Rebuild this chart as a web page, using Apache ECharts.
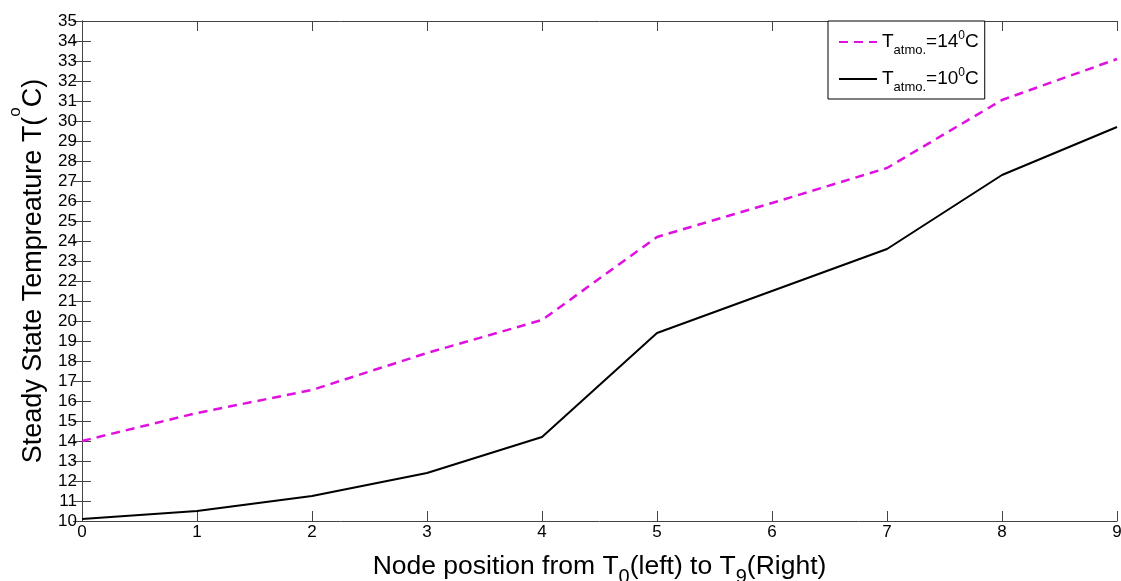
<!DOCTYPE html>
<html>
<head>
<meta charset="utf-8">
<script src="https://cdn.jsdelivr.net/npm/echarts@6/dist/echarts.min.js"></script>
<style>html,body{margin:0;padding:0;background:#fff}#c{width:1121px;height:581px}</style>
</head>
<body>
<div id="c"></div>
<script>
const nodes = [0, 1, 2, 3, 4, 5, 6, 7, 8, 9];
const temp14 = [14.0, 15.4, 16.55, 18.4, 20.05, 24.2, 25.9, 27.65, 31.05, 33.1];
const temp10 = [10.1, 10.5, 11.25, 12.4, 14.2, 19.4, 21.5, 23.6, 27.3, 29.7];
const seriesNames = ['T14', 'T10'];
const legendLabels = {
  T14: '{a|T}{sub|atmo.}{a|=14}{sup|0}{a|C}',
  T10: '{a|T}{sub|atmo.}{a|=10}{sup|0}{a|C}'
};

const font = 'Liberation Sans, Arial, sans-serif';
const axisColor = '#444';
const chart = echarts.init(document.getElementById('c'));
const pairs = (ys) => nodes.map((x, i) => [x, ys[i]]);

const common = {
  type: 'value', min: 0, max: 9, interval: 1,
  axisLine: { lineStyle: { color: axisColor, width: 1 } },
  axisTick: { inside: true, length: 10, lineStyle: { color: axisColor } },
  splitLine: { show: false }
};
const commonY = {
  type: 'value', min: 10, max: 35, interval: 1,
  axisLine: { show: true, lineStyle: { color: axisColor, width: 1 } },
  axisTick: { show: true, inside: true, length: 9, lineStyle: { color: axisColor } },
  splitLine: { show: false }
};

chart.setOption({
  animation: false,
  backgroundColor: '#fff',
  grid: { left: 82, top: 21, right: 4, bottom: 60, containLabel: false, outerBoundsMode: 'none' },
  xAxis: [
    Object.assign({}, common, {
      position: 'bottom',
      axisLabel: { color: '#000', fontSize: 17, fontFamily: font, margin: 3 },
      name: '{a|Node position from T}{sub|0}{a|(left) to T}{sub|9}{a|(Right)}',
      nameLocation: 'middle', nameGap: 32,
      nameTextStyle: {
        rich: {
          a: { fontSize: 26.5, fontFamily: font, color: '#000', lineHeight: 34, verticalAlign: 'top' },
          sub: { fontSize: 20, fontFamily: font, color: '#000', lineHeight: 34, verticalAlign: 'bottom', padding: [14, 0, 0, 0] }
        }
      }
    }),
    Object.assign({}, common, { position: 'top', axisLabel: { show: false } })
  ],
  yAxis: [
    Object.assign({}, commonY, {
      position: 'left',
      axisLabel: { color: '#000', fontSize: 17, fontFamily: font, margin: 5 },
      name: '{a|Steady State Tempreature T(}{sup|o}{a|C)}',
      nameLocation: 'middle', nameGap: 33, nameRotate: 90,
      nameTextStyle: {
        rich: {
          a: { fontSize: 27, fontFamily: font, color: '#000', lineHeight: 40, verticalAlign: 'bottom' },
          sup: { fontSize: 17, fontFamily: font, color: '#000', lineHeight: 40, verticalAlign: 'top' }
        }
      }
    }),
    Object.assign({}, commonY, { position: 'right', axisLabel: { show: false } })
  ],
  legend: {
    orient: 'vertical', left: 828, top: 21,
    backgroundColor: '#fff', borderColor: '#000', borderWidth: 1, borderRadius: 0,
    padding: [6, 6, 5, 10], itemGap: 7,
    itemWidth: 38, itemHeight: 14,
    itemStyle: { opacity: 0 },
    data: seriesNames,
    formatter: (n) => legendLabels[n],
    textStyle: {
      rich: {
        a: { fontSize: 19, fontFamily: font, color: '#000', lineHeight: 30, verticalAlign: 'middle' },
        sub: { fontSize: 13, fontFamily: font, color: '#000', lineHeight: 30, verticalAlign: 'bottom' },
        sup: { fontSize: 12, fontFamily: font, color: '#000', lineHeight: 30, verticalAlign: 'top', padding: [3, 0, 0, 0] }
      }
    }
  },
  series: [
    {
      name: seriesNames[0], type: 'line', data: pairs(temp14),
      symbol: 'none', color: '#e010e0',
      lineStyle: { color: '#e010e0', width: 2.5, type: [9, 6] }
    },
    {
      name: seriesNames[1], type: 'line', data: pairs(temp10),
      symbol: 'none', color: '#000',
      lineStyle: { color: '#000', width: 2 }
    }
  ]
});
</script>
</body>
</html>
